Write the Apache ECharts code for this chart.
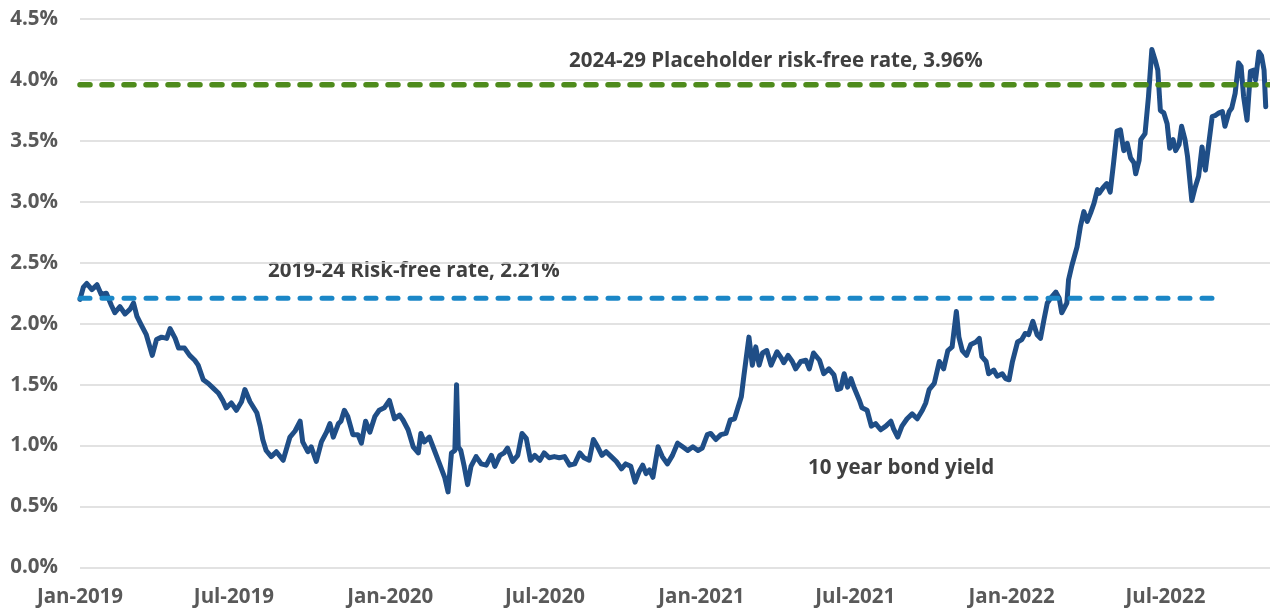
<!DOCTYPE html>
<html>
<head>
<meta charset="utf-8">
<script src="https://cdn.jsdelivr.net/npm/echarts@6/dist/echarts.min.js"></script>
<style>
html,body{margin:0;padding:0;background:#fff;}
#chart{width:1270px;height:610px;}
</style>
</head>
<body>
<div id="chart"></div>
<script>
// ---- data ----
// x values are day offsets from 1 Jan 2019; y values are the 10-year bond yield (%)
const days2019 = [0,4,8,14,20,25,31,37,41,47,53,59,63,67,72,78,85,90,96,102,106,112,116,123,129,135,139,145,151,157,163,168,172,178,184,190,194,200,208,212,215,219,225,231,239,247,253,259,262,268,272,278,284,290,294,298,304,307,311,315,321,327,331,336,341,347,352,358,364];
const yields2019 = [2.20,2.30,2.33,2.28,2.32,2.24,2.25,2.15,2.09,2.14,2.08,2.12,2.17,2.06,1.99,1.91,1.74,1.87,1.89,1.88,1.96,1.88,1.80,1.80,1.74,1.70,1.66,1.54,1.51,1.47,1.43,1.37,1.31,1.35,1.29,1.36,1.46,1.36,1.27,1.16,1.05,0.96,0.91,0.95,0.88,1.07,1.12,1.20,1.03,0.95,0.99,0.87,1.03,1.11,1.18,1.07,1.18,1.20,1.29,1.24,1.09,1.09,1.02,1.20,1.11,1.24,1.29,1.31,1.37];

const days2020 = [370,376,380,386,392,398,401,405,411,417,423,429,433,437,441,443,445,448,452,456,460,466,472,478,484,488,494,499,503,509,515,520,525,530,535,541,546,552,558,564,570,576,582,588,593,599,604,609,614,619,625,631,637,642,648,653,658,662,666,670,674,680,685,691,697,703,709,715,721,727];
const yields2020 = [1.22,1.25,1.21,1.13,0.99,0.94,1.10,1.03,1.07,0.96,0.85,0.74,0.62,0.94,0.96,1.50,0.99,0.96,0.83,0.68,0.83,0.91,0.85,0.84,0.92,0.83,0.92,0.94,0.98,0.87,0.92,1.10,1.06,0.88,0.92,0.88,0.94,0.90,0.91,0.90,0.91,0.84,0.85,0.94,0.90,0.88,1.05,0.99,0.92,0.95,0.91,0.87,0.81,0.85,0.83,0.70,0.79,0.84,0.77,0.80,0.74,0.99,0.91,0.85,0.92,1.02,0.99,0.96,0.99,0.96];

const days2021 = [732,738,742,748,754,760,765,770,774,778,781,787,791,795,799,803,808,813,820,825,828,833,838,842,848,854,858,863,870,875,881,887,891,895,899,903,907,911,917,920,926,931,936,942,948,954,957,962,967,973,979,985,991,995,999,1005,1011,1016,1021,1026,1031,1034,1038,1043,1048,1054,1058,1061,1066,1069,1075,1079,1085,1089,1093];
const yields2021 = [0.98,1.09,1.10,1.05,1.09,1.10,1.21,1.22,1.31,1.40,1.57,1.89,1.66,1.81,1.66,1.76,1.78,1.66,1.77,1.72,1.68,1.74,1.69,1.63,1.69,1.70,1.63,1.76,1.70,1.59,1.63,1.58,1.46,1.47,1.59,1.48,1.55,1.47,1.37,1.31,1.29,1.16,1.18,1.13,1.16,1.20,1.14,1.07,1.16,1.22,1.26,1.22,1.29,1.35,1.46,1.51,1.69,1.63,1.78,1.81,2.10,1.89,1.78,1.74,1.83,1.85,1.88,1.73,1.69,1.59,1.62,1.57,1.59,1.55,1.54];

const days2022 = [1097,1103,1108,1112,1116,1121,1126,1130,1134,1138,1142,1148,1152,1155,1161,1163,1167,1171,1173,1177,1181,1185,1189,1193,1197,1199,1204,1208,1212,1216,1220,1224,1228,1232,1236,1240,1242,1246,1248,1253,1257,1261,1265,1268,1271,1275,1279,1282,1286,1289,1293,1296,1300,1303,1308,1312,1316,1320,1324,1328,1332,1336,1340,1344,1347,1352,1355,1359,1363,1366,1369,1373,1377,1381,1383,1387,1390,1393,1395];
const yields2022 = [1.69,1.85,1.87,1.92,1.91,2.02,1.91,1.88,2.03,2.17,2.21,2.26,2.21,2.09,2.17,2.36,2.48,2.58,2.63,2.80,2.92,2.84,2.91,2.99,3.10,3.07,3.12,3.15,3.08,3.32,3.58,3.59,3.42,3.48,3.36,3.32,3.23,3.34,3.51,3.56,3.86,4.25,4.16,4.08,3.75,3.73,3.64,3.44,3.51,3.42,3.47,3.62,3.51,3.37,3.01,3.12,3.21,3.45,3.26,3.48,3.70,3.71,3.73,3.74,3.62,3.74,3.77,3.89,4.14,4.11,3.86,3.67,4.07,4.08,4.00,4.23,4.20,4.08,3.78];

// reference rates
const oldRate = 2.21;          // 2019-24 risk-free rate
const oldRateEndDay = 1343;
const newRate = 3.96;          // 2024-29 placeholder risk-free rate
const axisEndDay = 1400;

// axis ticks (day offsets of 1 Jan / 1 Jul)
const tickDays = [0,181,365,547,731,912,1096,1277];
const tickLabels = ['Jan-2019','Jul-2019','Jan-2020','Jul-2020','Jan-2021','Jul-2021','Jan-2022','Jul-2022'];

// ---- build ----
const allDays = days2019.concat(days2020, days2021, days2022);
const allYields = yields2019.concat(yields2020, yields2021, yields2022);
const lineData = allDays.map((d, i) => [d, allYields[i]]);

const chart = echarts.init(document.getElementById('chart'));
const font = '"Open Sans", Lato, sans-serif';

chart.setOption({
  animation: false,
  backgroundColor: '#ffffff',
  grid: { left: 80, right: 0, top: 19, bottom: 42.5 },
  xAxis: {
    type: 'value',
    min: 0,
    max: axisEndDay,
    axisLine: { show: false },
    axisTick: { show: false },
    splitLine: { show: false },
    axisLabel: {
      customValues: tickDays,
      formatter: v => {
        const i = tickDays.indexOf(v);
        return i >= 0 ? tickLabels[i] : '';
      },
      margin: 19,
      fontFamily: font,
      fontSize: 20.5,
      fontWeight: 'bold',
      color: '#595959',
      hideOverlap: false
    }
  },
  yAxis: {
    type: 'value',
    min: 0,
    max: 4.5,
    interval: 0.5,
    axisLine: { show: false },
    axisTick: { show: false },
    splitLine: { lineStyle: { color: '#d9d9d9', width: 1.5 } },
    axisLabel: {
      formatter: v => v.toFixed(1) + '%',
      margin: 22,
      fontFamily: font,
      fontSize: 20.5,
      fontWeight: 'bold',
      color: '#595959'
    }
  },
  series: [
    {
      name: '10 year bond yield',
      type: 'line',
      data: lineData,
      showSymbol: false,
      symbol: 'none',
      lineStyle: { color: '#1F4E87', width: 5, join: 'round', cap: 'round' },
      z: 2
    },
    {
      name: '2019-24 Risk-free rate',
      type: 'line',
      data: [[0, oldRate], [oldRateEndDay, oldRate]],
      symbol: 'none',
      lineStyle: { color: '#1B87C7', width: 5, type: [10, 12], cap: 'round' },
      z: 3
    },
    {
      name: '2024-29 Placeholder risk-free rate',
      type: 'line',
      data: [[0, newRate], [axisEndDay, newRate]],
      symbol: 'none',
      lineStyle: { color: '#4E8B1C', width: 5.5, type: [10, 12], cap: 'round' },
      z: 3
    }
  ],
  graphic: [
    { type: 'text', left: 569, top: 51, style: { text: '2024-29 Placeholder risk-free rate, 3.96%', font: 'bold 20.5px ' + font, fill: '#404040' } },
    { type: 'text', left: 268, top: 261, style: { text: '2019-24 Risk-free rate, 2.21%', font: 'bold 20.5px ' + font, fill: '#404040' } },
    { type: 'text', left: 808, top: 458, style: { text: '10 year bond yield', font: 'bold 20.5px ' + font, fill: '#404040' } }
  ]
});
</script>
</body>
</html>
